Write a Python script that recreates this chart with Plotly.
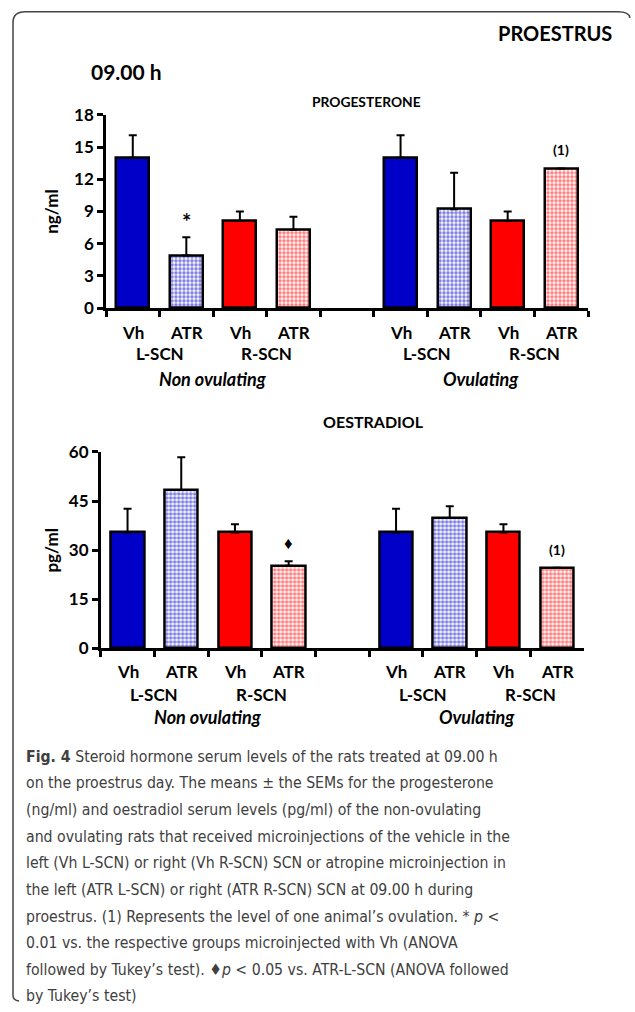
import plotly.graph_objects as go

W, H = 635, 1012

# ---------------- data ----------------
categories = ["Vh L-SCN NO", "ATR L-SCN NO", "Vh R-SCN NO", "ATR R-SCN NO", "gap",
              "Vh L-SCN O", "ATR L-SCN O", "Vh R-SCN O", "ATR R-SCN O"]
treat_labels = ["Vh", "ATR", "Vh", "ATR", "", "Vh", "ATR", "Vh", "ATR"]
side_labels = ["L-SCN", "R-SCN", "L-SCN", "R-SCN"]
group_labels = ["Non ovulating", "Ovulating"]

prog_mean = [14.0, 4.9, 8.1, 7.3, None, 14.0, 9.2, 8.1, 13.0]
prog_sem = [2.1, 1.7, 0.9, 1.2, None, 2.1, 3.4, 0.9, None]
estr_mean = [35.4, 48.4, 35.4, 25.2, None, 35.4, 39.8, 35.4, 24.6]
estr_sem = [7.2, 10.0, 2.5, 1.4, None, 7.2, 3.6, 2.5, None]

BLUE = "#0000C8"
RED = "#FF0000"
# bar style per category: (colour, patterned?)
bar_color = [BLUE, BLUE, RED, RED, None, BLUE, BLUE, RED, RED]
bar_dotted = [False, True, False, True, False, False, True, False, True]

FONT = "Lato, 'Open Sans', sans-serif"
CAP_FONT = "'DejaVu Sans Condensed', 'DejaVu Sans', sans-serif"


def px_x(p):
    return p / W


def px_y(p):
    return 1 - p / H


fig = go.Figure()

for mean, sem, xa, ya in [(prog_mean, prog_sem, "x", "y"), (estr_mean, estr_sem, "x2", "y2")]:
    for col in (BLUE, RED):
        for dotted in (False, True):
            idx = [i for i, c in enumerate(categories)
                   if bar_color[i] == col and bar_dotted[i] == dotted and mean[i] is not None]
            if dotted:
                marker = dict(color="white", line=dict(color="black", width=2.5),
                              pattern=dict(shape=".", fgcolor=col, bgcolor="white",
                                           size=4, solidity=0.62, fillmode="overlay"))
            else:
                marker = dict(color=col, line=dict(color="black", width=2.5))
            errs = [sem[i] for i in idx]
            fig.add_trace(go.Bar(
                x=[categories[i] for i in idx], y=[mean[i] for i in idx],
                xaxis=xa, yaxis=ya, width=0.62, marker=marker,
                error_y=dict(type="data", symmetric=False, array=errs,
                             arrayminus=[0 if e is not None else None for e in errs],
                             color="black", thickness=2, width=4),
                showlegend=False, hoverinfo="skip"))

axis_common = dict(showline=True, linecolor="black", linewidth=2.5, ticks="outside",
                   ticklen=6, tickwidth=2.5, tickcolor="black", showgrid=False,
                   zeroline=False, fixedrange=True)

fig.update_layout(
    width=W, height=H, margin=dict(l=0, r=0, t=0, b=0),
    paper_bgcolor="white", plot_bgcolor="white", bargap=0, barmode="overlay",
    font=dict(family=FONT, color="black"),
    xaxis=dict(domain=[px_x(106), px_x(588)], anchor="y", type="category",
               categoryorder="array", categoryarray=categories,
               tickson="boundaries", showticklabels=False, **axis_common),
    yaxis=dict(domain=[px_y(303.3), px_y(106)], anchor="x", range=[0, 18], dtick=3,
               tickfont=dict(size=17, weight="bold"), **axis_common),
    xaxis2=dict(domain=[px_x(100.7), px_x(584)], anchor="y2", type="category",
                categoryorder="array", categoryarray=categories,
                tickson="boundaries", showticklabels=False, **axis_common),
    yaxis2=dict(domain=[px_y(650.7), px_y(450.3)], anchor="x2", range=[0, 60], dtick=15,
                tickfont=dict(size=17, weight="bold"), **axis_common),
)

ann = []


def txt(text, x, y, size=15, xref="paper", yref="paper", xanchor="center",
        yanchor="middle", italic=False, bold=True, angle=0, family=FONT, color="black"):
    ann.append(dict(text=text, x=x, y=y, xref=xref, yref=yref, xanchor=xanchor,
                    yanchor=yanchor, showarrow=False, textangle=angle,
                    font=dict(family=family, size=size, color=color,
                              weight="bold" if bold else "normal",
                              style="italic" if italic else "normal")))


# header texts
txt("PROESTRUS", px_x(614), px_y(22), size=20, xanchor="right")
txt("09.00 h", px_x(89), px_y(62), size=21, xanchor="left")
txt("PROGESTERONE", px_x(367), px_y(92), size=13.8)
txt("OESTRADIOL", px_x(373), px_y(419), size=16)

# axis titles
txt("ng/ml", px_x(52), px_y(205), size=17, angle=-90)
txt("pg/ml", px_x(52), px_y(551), size=17, angle=-90)

# category labels
for xa, y1, y2, y3 in [("x", 328, 350, 376), ("x2", 675, 698, 721)]:
    for c, t in zip(categories, treat_labels):
        if t:
            txt(t, c, px_y(y1), size=17, xref=xa)
    pairs = [(0, 1), (2, 3), (5, 6), (7, 8)]
    for (a, b), s in zip(pairs, side_labels):
        txt(s, (a + b) / 2, px_y(y2), size=17, xref=xa)
    txt(group_labels[0], 1.5, px_y(y3), size=18, xref=xa, italic=True)
    txt(group_labels[1], 6.5, px_y(y3), size=18, xref=xa, italic=True)

# significance markers
txt("*", categories[1], prog_mean[1] + prog_sem[1], size=22, xref="x", yref="y",
    yanchor="bottom")
txt("(1)", categories[8], prog_mean[8], size=14, xref="x", yref="y", yanchor="bottom")
ann[-1]["yshift"] = 8
txt("♦", categories[3], estr_mean[3] + estr_sem[3], size=17, xref="x2", yref="y2",
    yanchor="bottom")
ann[-1]["yshift"] = 6
txt("(1)", categories[8], estr_mean[8], size=14, xref="x2", yref="y2", yanchor="bottom")
ann[-1]["yshift"] = 8

# caption
caption = [
    "<b>Fig. 4</b> Steroid hormone serum levels of the rats treated at 09.00 h",
    "on the proestrus day. The means ± the SEMs for the progesterone",
    "(ng/ml) and oestradiol serum levels (pg/ml) of the non-ovulating",
    "and ovulating rats that received microinjections of the vehicle in the",
    "left (Vh L-SCN) or right (Vh R-SCN) SCN or atropine microinjection in",
    "the left (ATR L-SCN) or right (ATR R-SCN) SCN at 09.00 h during",
    "proestrus. (1) Represents the level of one animal’s ovulation. * <i>p</i> <",
    "0.01 vs. the respective groups microinjected with Vh (ANOVA",
    "followed by Tukey’s test). ♦<i>p</i> < 0.05 vs. ATR-L-SCN (ANOVA followed",
    "by Tukey’s test)",
]
for i, line in enumerate(caption):
    txt(line, px_x(24), px_y(761 + 27.2 * i), size=15.7, xanchor="left", bold=False,
        family=CAP_FONT, color="#404040")

fig.update_layout(annotations=ann)

# rounded frame (top and left edges)
path = (f"M {px_x(630)},{px_y(7)} Q {px_x(629)},{px_y(0.8)} {px_x(618)},{px_y(0.8)} "
        f"L {px_x(25)},{px_y(0.8)} Q {px_x(13)},{px_y(0.8)} {px_x(13)},{px_y(12)} "
        f"L {px_x(13)},{px_y(1005)} Q {px_x(13)},{px_y(1010)} {px_x(19)},{px_y(1011)}")
fig.add_shape(type="path", path=path, xref="paper", yref="paper",
              line=dict(color="#444444", width=1.5))

fig.write_html("out.html", config={"displayModeBar": False},
               post_script="document.body.style.margin='0';document.body.style.padding='0';")
